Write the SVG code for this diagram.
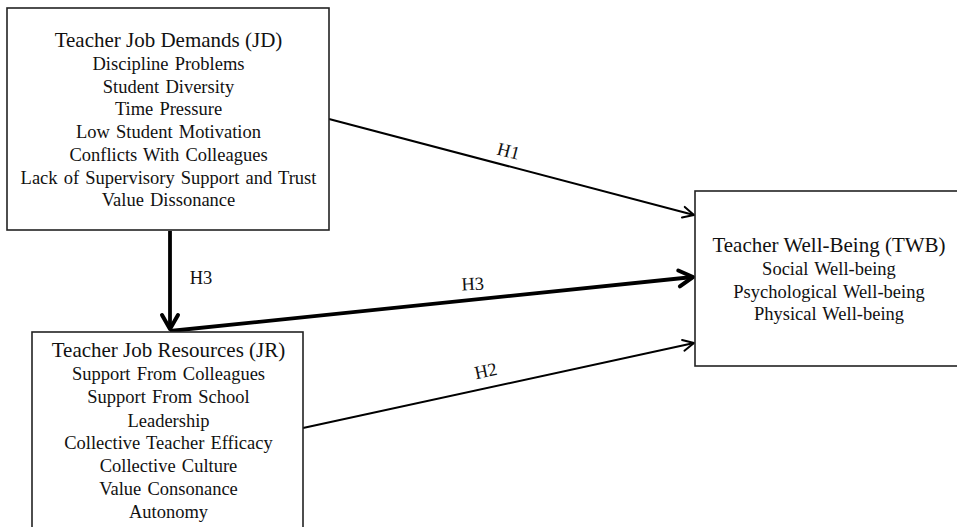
<svg xmlns="http://www.w3.org/2000/svg" width="957" height="527" viewBox="0 0 957 527">
  <style>
    .box { fill: #ffffff; stroke: #222222; stroke-width: 1.6; }
    .title { font-family: "Liberation Serif", "Times New Roman", serif; font-size: 21px; fill: #111111; text-anchor: middle; }
    .item { font-family: "Liberation Serif", "Times New Roman", serif; font-size: 18.5px; fill: #111111; text-anchor: middle; word-spacing: 1.5px; }
    .lbl { font-family: "Liberation Serif", "Times New Roman", serif; font-size: 18.5px; fill: #111111; text-anchor: middle; }
    .thin { stroke: #000000; stroke-width: 2; fill: none; }
    .thick { stroke: #000000; stroke-width: 3.8; fill: none; }
  </style>
  <defs>
    <marker id="arrowThin" markerUnits="userSpaceOnUse" markerWidth="20" markerHeight="20" viewBox="-14 -10 20 20" refX="0" refY="0" orient="auto">
      <path d="M-11,-5.5 L0,0 L-11,5.5" fill="none" stroke="#000000" stroke-width="2" stroke-linejoin="round" stroke-linecap="round"/>
    </marker>
    <marker id="arrowThick" markerUnits="userSpaceOnUse" markerWidth="30" markerHeight="30" viewBox="-20 -15 30 30" refX="0" refY="0" orient="auto">
      <path d="M-14,-8 L0,0 L-14,8" fill="none" stroke="#000000" stroke-width="4" stroke-linejoin="round" stroke-linecap="round"/>
    </marker>
  </defs>
  <rect width="957" height="527" fill="#ffffff"/>

  <g id="connectors">
    <line class="thin" x1="329" y1="119" x2="694" y2="215" marker-end="url(#arrowThin)"/>
    <line class="thick" x1="170" y1="231" x2="170" y2="329" marker-end="url(#arrowThick)"/>
    <line class="thick" x1="170" y1="331" x2="693" y2="277" marker-end="url(#arrowThick)"/>
    <line class="thin" x1="303" y1="428" x2="694" y2="343" marker-end="url(#arrowThin)"/>
    <text class="lbl" transform="translate(507,157) rotate(14.7)">H1</text>
    <text class="lbl" x="201" y="284">H3</text>
    <text class="lbl" transform="translate(473,290) rotate(-3)">H3</text>
    <text class="lbl" transform="translate(487,377) rotate(-12)">H2</text>
  </g>

  <g id="job-demands">
    <rect class="box" x="7" y="8" width="322" height="222"/>
    <text class="title" x="168.5" y="47">Teacher Job Demands (JD)</text>
    <text class="item" x="168.5" y="70">Discipline Problems</text>
    <text class="item" x="168.5" y="93">Student Diversity</text>
    <text class="item" x="168.5" y="115">Time Pressure</text>
    <text class="item" x="168.5" y="138">Low Student Motivation</text>
    <text class="item" x="168.5" y="161">Conflicts With Colleagues</text>
    <text class="item" x="168.5" y="184">Lack of Supervisory Support and Trust</text>
    <text class="item" x="168.5" y="206">Value Dissonance</text>
  </g>

  <g id="job-resources">
    <rect class="box" x="32" y="332" width="271" height="200"/>
    <text class="title" x="168.5" y="357">Teacher Job Resources (JR)</text>
    <text class="item" x="168.5" y="380">Support From Colleagues</text>
    <text class="item" x="168.5" y="403">Support From School</text>
    <text class="item" x="168.5" y="427">Leadership</text>
    <text class="item" x="168.5" y="449">Collective Teacher Efficacy</text>
    <text class="item" x="168.5" y="472">Collective Culture</text>
    <text class="item" x="168.5" y="495">Value Consonance</text>
    <text class="item" x="168.5" y="518">Autonomy</text>
  </g>

  <g id="well-being">
    <rect class="box" x="695" y="191" width="270" height="175"/>
    <text class="title" x="829" y="252">Teacher Well-Being (TWB)</text>
    <text class="item" x="829" y="275">Social Well-being</text>
    <text class="item" x="829" y="298">Psychological Well-being</text>
    <text class="item" x="829" y="320">Physical Well-being</text>
  </g>
</svg>
